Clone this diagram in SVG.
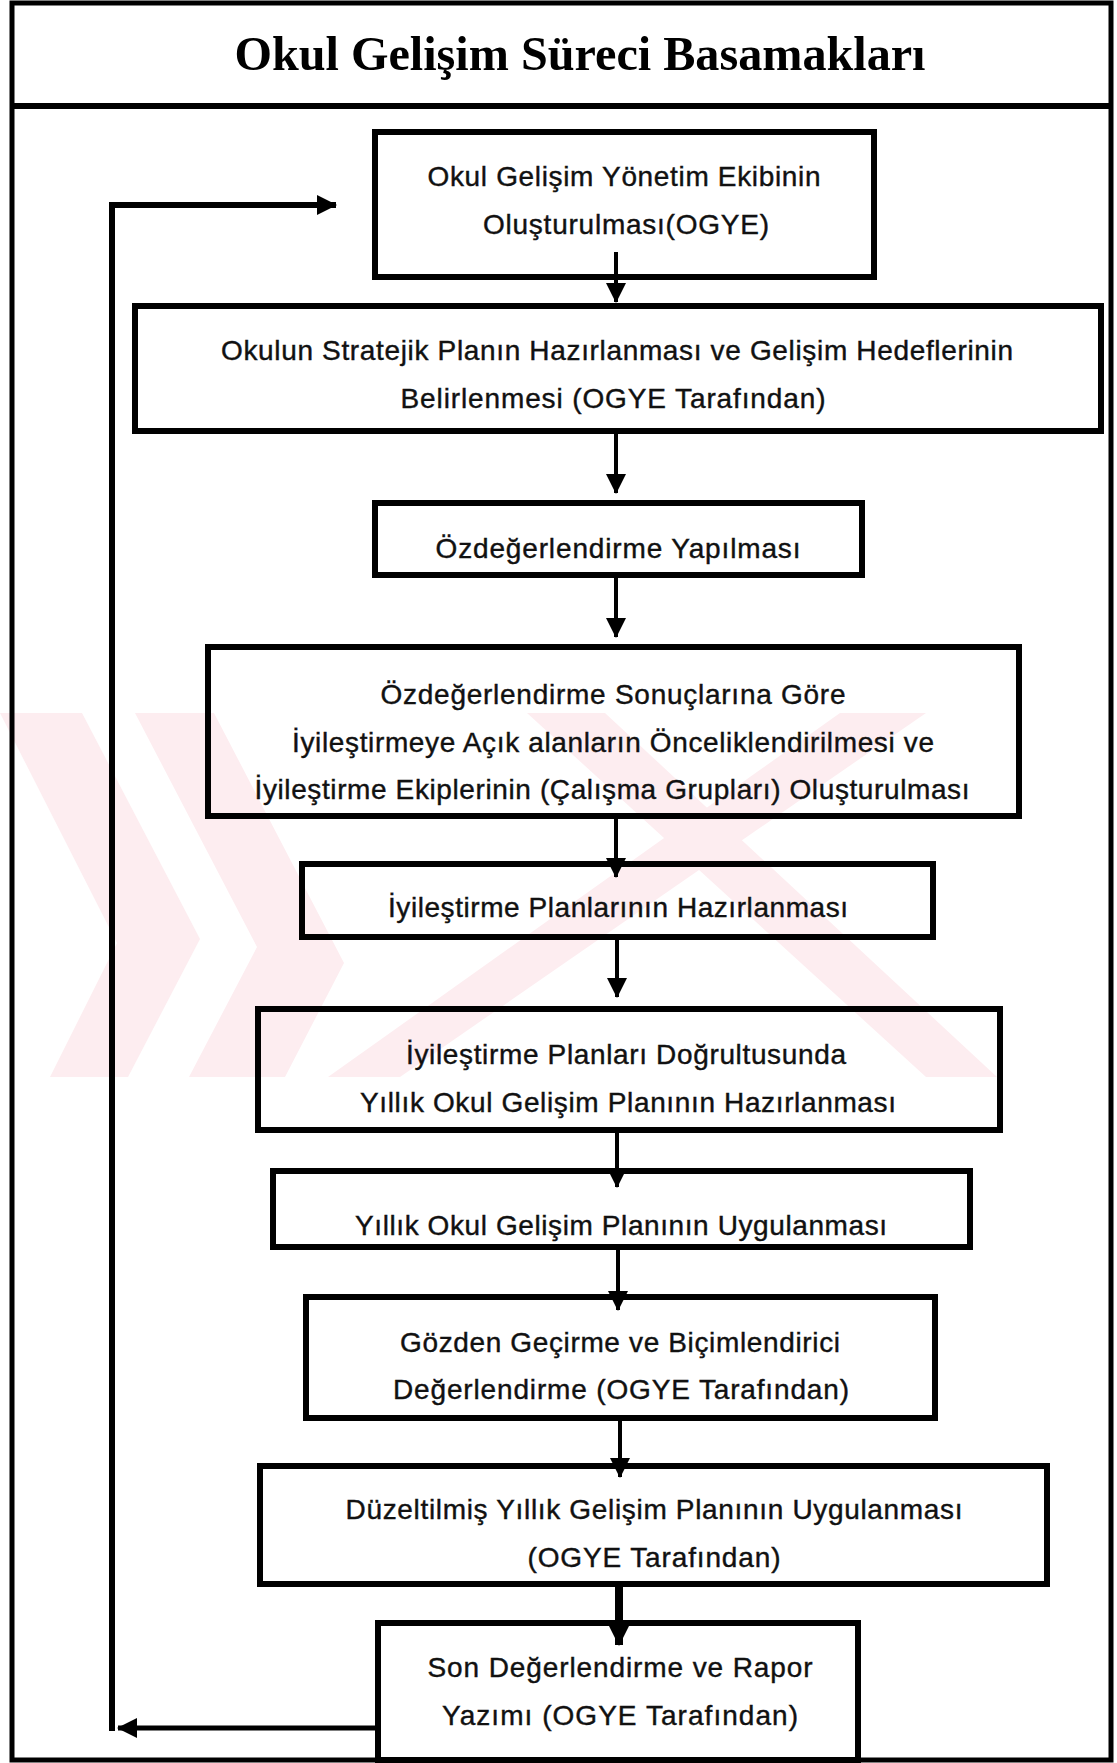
<svg xmlns="http://www.w3.org/2000/svg" width="1117" height="1763" viewBox="0 0 1117 1763">
<style>
.frame{fill:none;stroke:#000;stroke-width:5}
.box{fill:none;stroke:#000;stroke-width:6}
.t{font-family:"Liberation Sans",Arial,sans-serif;font-size:28px;fill:#111;stroke:#111;stroke-width:0.4;text-anchor:middle}
.title{font-family:"Liberation Serif","Times New Roman",serif;font-size:48px;font-weight:bold;fill:#000;text-anchor:middle}
.c{fill:none;stroke:#000;stroke-width:4}
.wm{fill:#fdedf0}
</style>
<defs>
<marker id="ah" markerUnits="userSpaceOnUse" markerWidth="20" markerHeight="20" refX="19" refY="10" orient="auto">
<path d="M0,0 L20,10 L0,20 z" fill="#000"/>
</marker>
</defs>
<rect width="1117" height="1763" fill="#fff"/>
<g id="watermark">
<polygon class="wm" points="0,713 82,713 200,939 128,1077 50,1077 117,943"/>
<polygon class="wm" points="135,713 214,713 344,963 285,1077 189,1077 257,947"/>
<polygon class="wm" points="527,713 605,713 997,1077 926,1077"/>
<polygon class="wm" points="840,713 926,713 400,1077 328,1077"/>
</g>
<g id="frame">
<rect class="frame" x="12" y="3" width="1099" height="1757"/>
<line x1="12" y1="106" x2="1111" y2="106" stroke="#000" stroke-width="6"/>
</g>
<g id="title">
<text class="title" x="580" y="70" textLength="691" lengthAdjust="spacingAndGlyphs">Okul Gelişim Süreci Basamakları</text>
</g>
<g id="connectors">
<path class="c" d="M616,252 V302" marker-end="url(#ah)"/>
<path class="c" d="M616,434 V493" marker-end="url(#ah)"/>
<path class="c" d="M616,578 V637" marker-end="url(#ah)"/>
<path class="c" d="M616,819 V877" marker-end="url(#ah)"/>
<path class="c" d="M617,940 V997" marker-end="url(#ah)"/>
<path class="c" d="M617,1133 V1187" marker-end="url(#ah)"/>
<path class="c" d="M618,1250 V1310" marker-end="url(#ah)"/>
<path class="c" d="M620,1421 V1477" marker-end="url(#ah)"/>
<path class="c" style="stroke-width:8" d="M619,1587 V1645" marker-end="url(#ah)"/>
<path class="c" style="stroke-width:5" d="M378,1728 H118" marker-end="url(#ah)"/>
<path class="c" style="stroke-width:6" d="M112,1731 V205 H336" marker-end="url(#ah)"/>
</g>
<g id="n1">
<rect class="box" x="375" y="132" width="499" height="145"/>
<text class="t" x="624" y="186" textLength="393" lengthAdjust="spacing">Okul Gelişim Yönetim Ekibinin</text>
<text class="t" x="626" y="234" textLength="286" lengthAdjust="spacing">Oluşturulması(OGYE)</text>
</g>
<g id="n2">
<rect class="box" x="135" y="306" width="966" height="125"/>
<text class="t" x="617" y="360" textLength="792" lengthAdjust="spacing">Okulun Stratejik Planın Hazırlanması ve Gelişim Hedeflerinin</text>
<text class="t" x="613" y="408" textLength="425" lengthAdjust="spacing">Belirlenmesi (OGYE Tarafından)</text>
</g>
<g id="n3">
<rect class="box" x="375" y="503" width="487" height="72"/>
<text class="t" x="618" y="558" textLength="365" lengthAdjust="spacing">Özdeğerlendirme Yapılması</text>
</g>
<g id="n4">
<rect class="box" x="208" y="647" width="811" height="169"/>
<text class="t" x="613" y="704" textLength="465" lengthAdjust="spacing">Özdeğerlendirme Sonuçlarına Göre</text>
<text class="t" x="613" y="752" textLength="642" lengthAdjust="spacing">İyileştirmeye Açık alanların Önceliklendirilmesi ve</text>
<text class="t" x="612" y="799" textLength="715" lengthAdjust="spacing">İyileştirme Ekiplerinin (Çalışma Grupları) Oluşturulması</text>
</g>
<g id="n5">
<rect class="box" x="302" y="864" width="631" height="73"/>
<text class="t" x="618" y="917" textLength="460" lengthAdjust="spacing">İyileştirme Planlarının Hazırlanması</text>
</g>
<g id="n6">
<rect class="box" x="258" y="1009" width="742" height="121"/>
<text class="t" x="626" y="1064" textLength="440" lengthAdjust="spacing">İyileştirme Planları Doğrultusunda</text>
<text class="t" x="628" y="1112" textLength="536" lengthAdjust="spacing">Yıllık Okul Gelişim Planının Hazırlanması</text>
</g>
<g id="n7">
<rect class="box" x="273" y="1171" width="697" height="76"/>
<text class="t" x="621" y="1235" textLength="532" lengthAdjust="spacing">Yıllık Okul Gelişim Planının Uygulanması</text>
</g>
<g id="n8">
<rect class="box" x="306" y="1297" width="629" height="121"/>
<text class="t" x="620" y="1352" textLength="440" lengthAdjust="spacing">Gözden Geçirme ve Biçimlendirici</text>
<text class="t" x="621" y="1399" textLength="456" lengthAdjust="spacing">Değerlendirme (OGYE Tarafından)</text>
</g>
<g id="n9">
<rect class="box" x="260" y="1466" width="787" height="118"/>
<text class="t" x="654" y="1519" textLength="617" lengthAdjust="spacing">Düzeltilmiş Yıllık Gelişim Planının Uygulanması</text>
<text class="t" x="654" y="1567" textLength="253" lengthAdjust="spacing">(OGYE Tarafından)</text>
</g>
<g id="n10">
<rect class="box" x="378" y="1623" width="480" height="137"/>
<text class="t" x="620" y="1677" textLength="385" lengthAdjust="spacing">Son Değerlendirme ve Rapor</text>
<text class="t" x="620" y="1725" textLength="356" lengthAdjust="spacing">Yazımı (OGYE Tarafından)</text>
</g>
</svg>
